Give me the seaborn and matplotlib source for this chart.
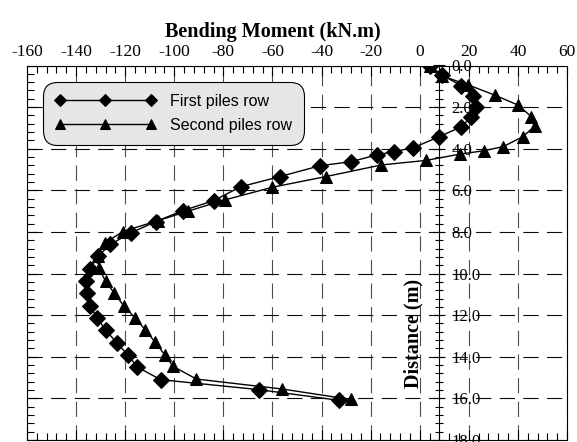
import numpy as np
import pandas as pd
import matplotlib
matplotlib.use('Agg')
import matplotlib.pyplot as plt
import matplotlib.ticker as mticker
import seaborn as sns

# ---- data ----
depth_first = [0.0, 0.46, 0.97, 1.45, 1.98, 2.46, 2.94, 3.42, 3.95,
               4.14, 4.3, 4.62, 4.82, 5.34, 5.83, 6.5, 6.97,
               7.5, 8.05, 8.6, 9.18, 9.78, 10.35, 10.95, 11.55,
               12.14, 12.73, 13.32, 13.93, 14.49, 15.1, 15.58, 16.09]
moment_first = [4, 9, 17, 21.5, 23, 21, 17, 8, -2.6,
                -10.4, -17.6, -27.8, -40.7, -57, -73, -84, -96.4,
                -107.5, -117.8, -126, -131.2, -134.4, -135.8, -135.7, -134.3,
                -131.4, -127.8, -123.5, -118.8, -115.1, -105.6, -65.5, -33]

depth_second = [0.0, 0.5, 0.93, 1.42, 1.9, 2.46, 2.9, 3.42, 3.9,
                4.1, 4.26, 4.56, 4.78, 5.34, 5.85, 6.46, 7.0,
                7.45, 7.98, 8.54, 9.14, 9.74, 10.38, 10.94, 11.55,
                12.12, 12.7, 13.3, 13.9, 14.46, 15.07, 15.55, 16.05]
moment_second = [4, 9, 19.7, 30.5, 40, 45.5, 47, 42, 34,
                 26, 16.3, 2.7, -15.6, -38.3, -60, -79.4, -94.4,
                 -106.5, -121, -128.3, -131, -130.6, -128, -124.4, -120.6,
                 -116.1, -111.8, -107.8, -103.9, -100.5, -91, -56, -28.2]

series_labels = ['First piles row', 'Second piles row']
x_title = 'Bending Moment (kN.m)'
y_title = 'Distance (m)'

# ---- style ----
sns.set_theme(style='ticks')
plt.rcParams['font.family'] = ['Liberation Serif', 'DejaVu Serif']
plt.rcParams['axes.unicode_minus'] = False
plt.rcParams['lines.scale_dashes'] = False
for k in ['axes.edgecolor', 'xtick.color', 'ytick.color', 'text.color', 'axes.labelcolor']:
    plt.rcParams[k] = 'black'

fig = plt.figure(figsize=(5.77, 4.42), dpi=100)
ax = fig.add_axes([27 / 577, 2 / 442, 540 / 577, 374.5 / 442])

df1 = pd.DataFrame({'moment': moment_first, 'depth': depth_first})
df2 = pd.DataFrame({'moment': moment_second, 'depth': depth_second})

sns.lineplot(data=df2, x='moment', y='depth', sort=False, estimator=None, orient='y',
             color='black', marker='^', markersize=8.5, markeredgecolor='black',
             linewidth=1.0, ax=ax, label=series_labels[1], zorder=3)
sns.lineplot(data=df1, x='moment', y='depth', sort=False, estimator=None, orient='y',
             color='black', marker='D', markersize=8, markeredgecolor='black',
             linewidth=1.0, ax=ax, label=series_labels[0], zorder=4)

ax.set_xlim(-160, 60)
ax.set_ylim(18, 0)
ax.set_ylabel('')
ax.xaxis.set_major_locator(mticker.MultipleLocator(20))
ax.xaxis.set_minor_locator(mticker.MultipleLocator(4))
ax.xaxis.set_major_formatter(mticker.FormatStrFormatter('%d'))
ax.yaxis.set_major_locator(mticker.MultipleLocator(2))
ax.yaxis.set_minor_locator(mticker.MultipleLocator(0.4))

ax.xaxis.grid(True, which='major', color='0.3', linestyle=(0, (11, 6)), linewidth=0.8)
ax.yaxis.grid(True, which='major', color='0.05', linestyle=(0, (11, 6)), linewidth=0.8)
ax.set_axisbelow(True)

ax.tick_params(axis='x', which='both', direction='in', top=True, bottom=True,
               labeltop=True, labelbottom=False, width=0.8)
ax.tick_params(axis='x', which='major', length=7, labelsize=12.5, pad=4)
ax.tick_params(axis='x', which='minor', length=5)
ax.tick_params(axis='y', which='both', direction='in', left=True, right=True,
               labelleft=False, labelright=False, width=0.8)
ax.tick_params(axis='y', which='major', length=7)
ax.tick_params(axis='y', which='minor', length=5)
for s in ax.spines.values():
    s.set_linewidth(0.8)
    s.set_color('black')

ax.set_xlabel(x_title, fontsize=14.5, fontweight='bold')
ax.xaxis.set_label_position('top')
ax.xaxis.set_label_coords(0.455, 1.075)

ax.text(-2.5, 12.9, y_title, rotation=90, ha='center', va='center',
        fontsize=14.5, fontweight='bold', zorder=5)

# central depth axis crossing near x = 8
ax2 = ax.twinx()
ax2.set_ylim(18, 0)
ax2.spines['right'].set_position(('data', 8))
for s in ['left', 'top', 'bottom']:
    ax2.spines[s].set_visible(False)
ax2.spines['right'].set_linewidth(0.8)
ax2.spines['right'].set_color('black')
ax2.yaxis.set_major_locator(mticker.MultipleLocator(2))
ax2.yaxis.set_minor_locator(mticker.MultipleLocator(0.4))
ax2.yaxis.set_major_formatter(mticker.FormatStrFormatter('%.1f'))
ax2.tick_params(axis='y', which='both', direction='inout', right=True, left=False,
                labelright=True, labelleft=False, width=0.8)
ax2.tick_params(axis='y', which='major', length=8, labelsize=12, pad=4.5)
ax2.tick_params(axis='y', which='minor', length=6)

# legend
handles, labels = ax.get_legend_handles_labels()
order = [labels.index(series_labels[0]), labels.index(series_labels[1])]
leg = ax.legend([handles[i] for i in order], [labels[i] for i in order],
                loc='upper left', bbox_to_anchor=(43 / 577, 1 - 82 / 442),
                bbox_transform=fig.transFigure, borderaxespad=0, numpoints=3,
                handlelength=6.3, handletextpad=0.9, borderpad=0.75, labelspacing=0.55,
                markerscale=0.8, frameon=True, fancybox=True,
                prop={'family': 'Liberation Sans', 'size': 11.5},
                facecolor='#e6e6e6', edgecolor='black', framealpha=1)
leg.get_frame().set_boxstyle('round,pad=0,rounding_size=0.9')
leg.get_frame().set_linewidth(0.8)

fig.savefig('out.png', dpi=100)
